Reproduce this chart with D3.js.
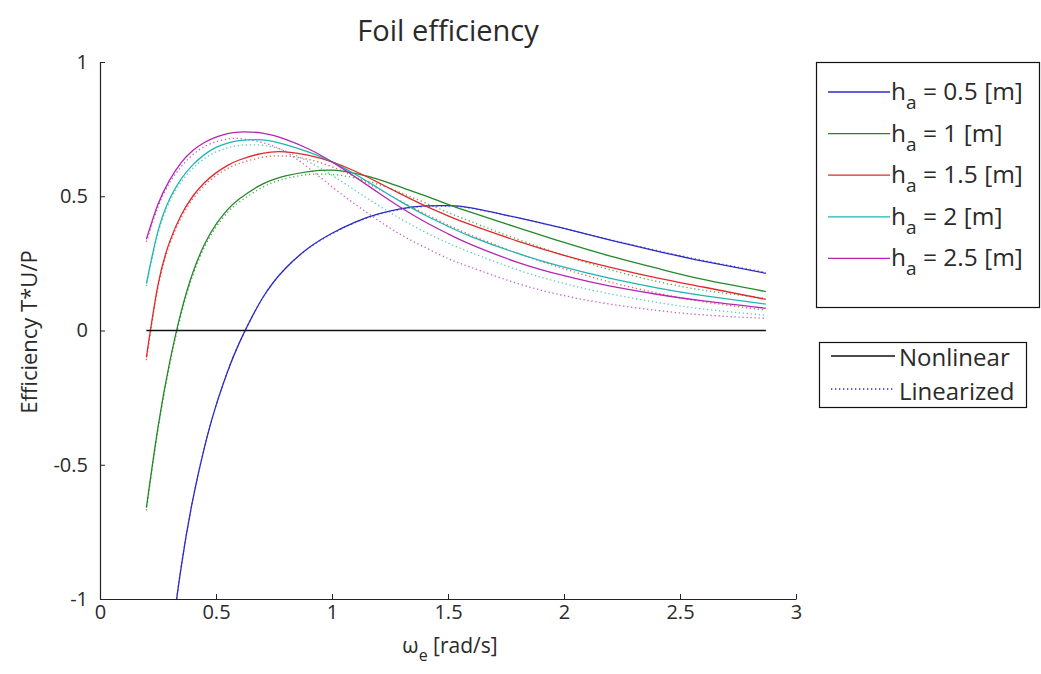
<!DOCTYPE html>
<html>
<head>
<meta charset="utf-8">
<script src="https://cdn.jsdelivr.net/npm/d3@7"></script>
<style>
  body { margin: 0; background: #fff; }
  svg text { font-family: "Open Sans", "Noto Sans", sans-serif; fill: #2a2a2a; }
</style>
</head>
<body>
<svg id="chart" width="1041" height="674"></svg>
<script>
// Encounter frequency samples [rad/s]
const omega = [0.2, 0.25, 0.3, 0.35, 0.4, 0.45, 0.5, 0.55, 0.6, 0.7, 0.8, 0.9, 1.0,
               1.1, 1.2, 1.3, 1.4, 1.5, 1.6, 1.8, 2.0, 2.2, 2.4, 2.6, 2.87];

// Heave amplitudes h_a [m]
const amplitudes = ["0.5", "1", "1.5", "2", "2.5"];

// Efficiency T*U/P, nonlinear model
const nonlinH05 = [-2.38, -1.68, -1.213, -0.88, -0.63, -0.436, -0.28, -0.153, -0.047, 0.12, 0.232, 0.308, 0.362,
                   0.404, 0.434, 0.454, 0.464, 0.465, 0.457, 0.42, 0.38, 0.337, 0.296, 0.258, 0.213];
const nonlinH10 = [-0.66, -0.36, -0.12, 0.07, 0.215, 0.32, 0.395, 0.45, 0.49, 0.545, 0.576, 0.592, 0.597,
                   0.585, 0.563, 0.533, 0.502, 0.47, 0.44, 0.383, 0.328, 0.277, 0.232, 0.19, 0.145];
const nonlinH15 = [-0.10, 0.17, 0.33, 0.43, 0.50, 0.55, 0.587, 0.615, 0.635, 0.66, 0.665, 0.652, 0.628,
                   0.593, 0.551, 0.507, 0.465, 0.427, 0.393, 0.333, 0.28, 0.235, 0.196, 0.162, 0.116];
const nonlinH20 = [0.175, 0.37, 0.49, 0.565, 0.617, 0.655, 0.682, 0.698, 0.707, 0.71, 0.692, 0.664, 0.628,
                   0.582, 0.53, 0.478, 0.43, 0.388, 0.35, 0.287, 0.236, 0.194, 0.159, 0.13, 0.098];
const nonlinH25 = [0.34, 0.47, 0.56, 0.625, 0.67, 0.70, 0.72, 0.733, 0.739, 0.735, 0.712, 0.676, 0.628,
                   0.572, 0.513, 0.456, 0.405, 0.36, 0.32, 0.254, 0.204, 0.165, 0.135, 0.11, 0.083];

// Efficiency T*U/P, linearized model
const linH05 = [-2.38, -1.68, -1.213, -0.88, -0.63, -0.436, -0.28, -0.153, -0.047, 0.12, 0.232, 0.307, 0.36,
                0.402, 0.432, 0.452, 0.462, 0.463, 0.455, 0.42, 0.38, 0.338, 0.298, 0.261, 0.216];
const linH10 = [-0.67, -0.37, -0.13, 0.06, 0.205, 0.31, 0.385, 0.44, 0.478, 0.533, 0.566, 0.581, 0.581,
                0.568, 0.544, 0.512, 0.476, 0.44, 0.405, 0.34, 0.28, 0.226, 0.183, 0.15, 0.12];
const linH15 = [-0.11, 0.16, 0.32, 0.42, 0.49, 0.54, 0.577, 0.603, 0.622, 0.645, 0.65, 0.637, 0.61,
                0.572, 0.527, 0.48, 0.435, 0.393, 0.355, 0.288, 0.23, 0.18, 0.14, 0.107, 0.076];
const linH20 = [0.165, 0.36, 0.48, 0.553, 0.604, 0.64, 0.665, 0.68, 0.689, 0.69, 0.668, 0.628, 0.578,
                0.522, 0.466, 0.414, 0.367, 0.326, 0.29, 0.226, 0.175, 0.136, 0.105, 0.08, 0.057];
const linH25 = [0.33, 0.46, 0.55, 0.61, 0.655, 0.685, 0.703, 0.713, 0.715, 0.70, 0.665, 0.605, 0.535,
                0.47, 0.41, 0.355, 0.31, 0.268, 0.235, 0.175, 0.13, 0.098, 0.075, 0.058, 0.045];

// Reference zero line
const zeroLine = omega.map(() => 0);

const xTicks = [0, 0.5, 1, 1.5, 2, 2.5, 3];
const xTickLabels = ["0", "0.5", "1", "1.5", "2", "2.5", "3"];
const yTicks = [-1, -0.5, 0, 0.5, 1];
const yTickLabels = ["-1", "-0.5", "0", "0.5", "1"];

const colors = ["#2b2bc4", "#23882a", "#e02a2a", "#20b4b4", "#b426b4"];
const nonlinSeries = [nonlinH05, nonlinH10, nonlinH15, nonlinH20, nonlinH25];
const linSeries = [linH05, linH10, linH15, linH20, linH25];

const svg = d3.select("#chart");
const x = d3.scaleLinear().domain([0, 3]).range([100, 796]);
const y = d3.scaleLinear().domain([-1, 1]).range([599, 62]);

svg.append("defs").append("clipPath").attr("id", "plot-clip")
  .append("rect").attr("x", 100).attr("y", 62).attr("width", 696).attr("height", 537);

const line = d3.line()
  .x((d, i) => x(omega[i]))
  .y(d => y(d))
  .curve(d3.curveNatural);

const plot = svg.append("g").attr("clip-path", "url(#plot-clip)");

// Linearized (dotted) curves
linSeries.forEach((s, k) => {
  plot.append("path").attr("d", line(s))
    .attr("fill", "none").attr("stroke", colors[k]).attr("stroke-width", 1.3)
    .attr("stroke-dasharray", "1.3,2.7").attr("opacity", 0.75);
});

// Nonlinear (solid) curves
nonlinSeries.forEach((s, k) => {
  plot.append("path").attr("d", line(s))
    .attr("fill", "none").attr("stroke", colors[k]).attr("stroke-width", 1.3);
});

plot.append("path").attr("d", line(zeroLine))
  .attr("fill", "none").attr("stroke", "#111").attr("stroke-width", 1.3);

// Axes (ticks drawn inward)
const xAxis = d3.axisBottom(x).tickValues(xTicks)
  .tickFormat((d, i) => xTickLabels[i]).tickSizeInner(-5).tickSizeOuter(0).tickPadding(6);
const yAxis = d3.axisLeft(y).tickValues(yTicks)
  .tickFormat((d, i) => yTickLabels[i]).tickSizeInner(-5).tickSizeOuter(0).tickPadding(12);

const gx = svg.append("g").attr("transform", "translate(0,599)").call(xAxis);
const gy = svg.append("g").attr("transform", "translate(100,0)").call(yAxis);
[gx, gy].forEach(g => {
  g.select(".domain").attr("stroke", "#222").attr("stroke-width", 1.2);
  g.selectAll(".tick line").attr("stroke", "#222");
  g.selectAll(".tick text").attr("font-size", 20).attr("fill", "#333")
    .style("font-family", "'Open Sans', sans-serif");
});

// Title and axis labels
svg.append("text").attr("x", 448).attr("y", 41).attr("text-anchor", "middle")
  .attr("font-size", 29).text("Foil efficiency");

const xl = svg.append("text").attr("x", 450).attr("y", 653).attr("text-anchor", "middle")
  .attr("font-size", 21);
xl.append("tspan").text("ω");
xl.append("tspan").attr("font-size", 16).attr("dy", 8).text("e");
xl.append("tspan").attr("dy", -8).text(" [rad/s]");

svg.append("text").attr("transform", "translate(37,332) rotate(-90)")
  .attr("text-anchor", "middle").attr("font-size", 22).text("Efficiency T*U/P");

// Amplitude legend
const leg1 = svg.append("g");
leg1.append("rect").attr("x", 816.5).attr("y", 62.5).attr("width", 223).attr("height", 245)
  .attr("fill", "#fff").attr("stroke", "#111").attr("stroke-width", 1.2);
amplitudes.forEach((a, k) => {
  const ly = 92 + k * 41.6;
  leg1.append("line").attr("x1", 828).attr("x2", 890).attr("y1", ly).attr("y2", ly)
    .attr("stroke", colors[k]).attr("stroke-width", 1.3);
  const t = leg1.append("text").attr("x", 891).attr("y", ly + 8).attr("font-size", 24.5);
  t.append("tspan").text("h");
  t.append("tspan").attr("font-size", 19).attr("dy", 9).text("a");
  t.append("tspan").attr("dy", -9).text(" = " + a + " [m]");
});

// Model legend
const leg2 = svg.append("g");
leg2.append("rect").attr("x", 819.5).attr("y", 342.5).attr("width", 207).attr("height", 65)
  .attr("fill", "#fff").attr("stroke", "#111").attr("stroke-width", 1.2);
leg2.append("line").attr("x1", 831).attr("x2", 895).attr("y1", 356).attr("y2", 356)
  .attr("stroke", "#111").attr("stroke-width", 1.3);
leg2.append("text").attr("x", 899).attr("y", 366).attr("font-size", 24).text("Nonlinear");
leg2.append("line").attr("x1", 831).attr("x2", 895).attr("y1", 389).attr("y2", 389)
  .attr("stroke", colors[0]).attr("stroke-width", 1.3).attr("stroke-dasharray", "1.3,2.7");
leg2.append("text").attr("x", 899).attr("y", 400).attr("font-size", 24).text("Linearized");
</script>
</body>
</html>
